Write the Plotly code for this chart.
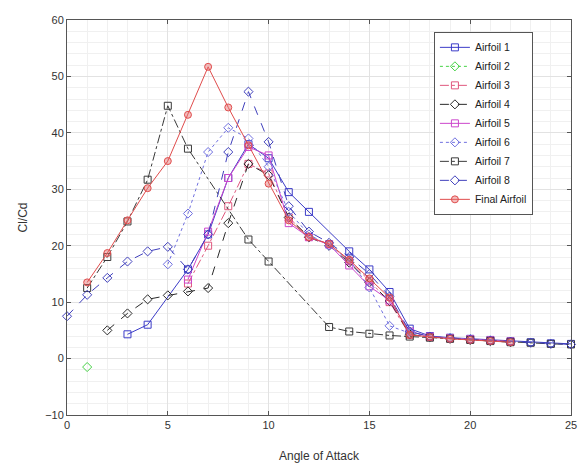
import plotly.graph_objects as go

# ---- data ----
a1_x = [3, 4, 6, 7, 8, 9, 10, 11, 12, 14, 15, 16, 17, 18, 19, 20, 21, 22, 23, 24, 25]
a1_y = [4.3, 6.0, 15.8, 22.0, 32.0, 38.0, 35.5, 29.5, 26.0, 19.0, 15.8, 11.8, 5.3, 4.0, 3.7, 3.5, 3.3, 3.1, 2.9, 2.7, 2.6]

a2_x = [1]
a2_y = [-1.5]

a3_x = [6, 7, 8, 9, 10, 11, 12, 13, 14, 15, 16, 17, 18, 19, 20, 21, 22]
a3_y = [13.3, 20.0, 27.0, 34.5, 32.8, 25.0, 21.6, 20.3, 17.3, 13.8, 10.0, 4.2, 3.8, 3.6, 3.4, 3.2, 3.0]

a4_x = [2, 3, 4, 5, 6, 7, 8, 9, 10, 11, 12, 13, 14, 15, 16, 17, 18, 19, 20, 21, 22]
a4_y = [5.0, 8.0, 10.5, 11.2, 11.9, 12.5, 24.0, 34.5, 32.5, 25.0, 21.5, 20.0, 17.0, 13.5, 10.2, 4.3, 3.8, 3.5, 3.3, 3.1, 2.9]

a5_x = [6, 7, 8, 9, 10, 11, 12, 13, 14, 15, 16, 17, 18, 19, 20, 21, 22]
a5_y = [14.0, 22.5, 32.0, 37.5, 36.0, 24.0, 21.5, 20.2, 16.5, 12.8, 10.3, 4.8, 3.9, 3.6, 3.4, 3.2, 3.0]

a6_x = [5, 6, 7, 8, 9, 10, 11, 12, 13, 14, 15, 16, 17, 18, 19, 20]
a6_y = [16.7, 25.7, 36.6, 40.9, 39.0, 34.0, 26.0, 22.0, 20.0, 17.5, 12.6, 5.8, 4.5, 3.9, 3.6, 3.4]

a7_x = [1, 2, 3, 4, 5, 6, 9, 10, 13, 14, 15, 16, 17, 18, 19, 20, 21, 22, 23, 24, 25]
a7_y = [12.5, 18.0, 24.3, 31.7, 44.8, 37.2, 21.1, 17.2, 5.6, 4.8, 4.4, 4.1, 3.9, 3.7, 3.5, 3.3, 3.1, 2.9, 2.8, 2.6, 2.5]

a8_x = [0, 1, 2, 3, 4, 5, 6, 7, 8, 9, 10, 11, 12, 13, 14, 15, 16, 17, 18, 19, 20, 21, 22, 23, 24, 25]
a8_y = [7.5, 11.3, 14.3, 17.2, 19.0, 19.8, 15.8, 22.0, 36.6, 47.3, 38.4, 27.0, 22.5, 20.5, 18.0, 15.0, 11.0, 4.8, 3.9, 3.6, 3.4, 3.2, 3.0, 2.8, 2.6, 2.5]

fin_x = [1, 2, 3, 4, 5, 6, 7, 8, 9, 10, 11, 12, 13, 14, 15, 16, 17, 18, 19, 20, 21, 22]
fin_y = [13.5, 18.7, 24.5, 30.2, 35.0, 43.2, 51.7, 44.5, 37.8, 31.0, 24.5, 21.5, 20.3, 17.5, 14.2, 10.8, 4.2, 3.8, 3.5, 3.3, 3.1, 2.9]

x_ticks = [0, 5, 10, 15, 20, 25]
y_ticks = [-10, 0, 10, 20, 30, 40, 50, 60]

series = [
    ("Airfoil 1", a1_x, a1_y, "#3c3cc8", "solid", "square-open", None),
    ("Airfoil 2", a2_x, a2_y, "#46d246", "dot", "diamond-open", None),
    ("Airfoil 3", a3_x, a3_y, "#e0587e", "dashdot", "square-open", None),
    ("Airfoil 4", a4_x, a4_y, "#2a2a2a", "dash", "diamond-open", None),
    ("Airfoil 5", a5_x, a5_y, "#cc46cc", "solid", "square-open", None),
    ("Airfoil 6", a6_x, a6_y, "#7070e0", "dot", "diamond-open", None),
    ("Airfoil 7", a7_x, a7_y, "#3a3a3a", "dashdot", "square-open", None),
    ("Airfoil 8", a8_x, a8_y, "#4040bc", "dash", "diamond-open", None),
    ("Final Airfoil", fin_x, fin_y, "#e04c4c", "solid", "circle", "rgba(230,110,110,0.45)"),
]

fig = go.Figure()
for name, xs, ys, col, dash, sym, fill in series:
    marker = dict(symbol=sym, size=7, color=col, line=dict(color=col, width=1))
    if fill is not None:
        marker = dict(symbol="circle", size=7, color=fill, line=dict(color=col, width=1))
    fig.add_trace(go.Scatter(
        x=xs, y=ys, name=name, mode="lines+markers",
        line=dict(color=col, width=1, dash=dash),
        marker=marker, cliponaxis=False,
    ))

axis_common = dict(
    showline=True, linecolor="#555555", linewidth=1, mirror="ticks",
    ticks="inside", ticklen=4, tickcolor="#555555",
    showgrid=True, gridcolor="#e2e2e2", gridwidth=1,
    zeroline=False, automargin=False,
    tickfont=dict(family="Liberation Sans, Arial", size=11, color="#333333"),
)

fig.update_xaxes(
    range=[0, 25], tickvals=x_ticks,
    minor=dict(dtick=1, showgrid=True, gridcolor="#f0f0f0", ticks=""),
    title=dict(text="Angle of Attack", font=dict(family="Liberation Sans, Arial", size=12, color="#333333"), standoff=21),
    **axis_common,
)
fig.update_yaxes(
    range=[-10, 60], tickvals=y_ticks,
    minor=dict(dtick=2, showgrid=True, gridcolor="#f0f0f0", ticks=""),
    title=dict(text="Cl/Cd", font=dict(family="Liberation Sans, Arial", size=12, color="#333333"), standoff=14),
    **axis_common,
)

fig.update_layout(
    width=584, height=466,
    margin=dict(l=67, r=13, t=20, b=51),
    paper_bgcolor="white", plot_bgcolor="white",
    showlegend=True,
    legend=dict(
        x=0.728, y=0.97, xanchor="left", yanchor="top",
        bgcolor="white", bordercolor="#555555", borderwidth=1,
        font=dict(family="Liberation Sans, Arial", size=10.5, color="#222222"),
        tracegroupgap=0, itemwidth=30,
    ),
)

fig.write_html("out.html", config={"displayModeBar": False},
               post_script="document.body.style.margin='0';document.body.style.padding='0';")
